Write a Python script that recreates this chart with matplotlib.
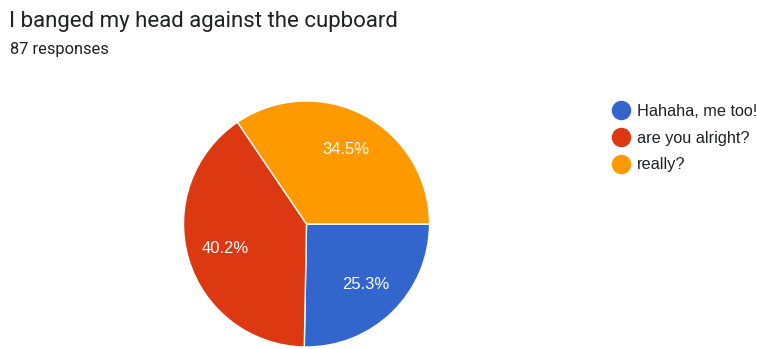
import matplotlib.pyplot as plt
from matplotlib.lines import Line2D

# Du lieu doc tu hinh
labels = ["Hahaha, me too!", "are you alright?", "really?"]
counts = [22, 35, 30]
colors = ["#3366cc", "#dc3912", "#ff9900"]
title = "I banged my head against the cupboard"
subtitle = "87 responses"

fig = plt.figure(figsize=(7.57, 3.49), dpi=100)

# Tieu de
fig.text(9 / 757, 1 - 27 / 349, title, fontsize=16, family="Roboto",
         color="#202124", va="baseline")
fig.text(10 / 757, 1 - 54 / 349, subtitle, fontsize=11.8, family="Roboto",
         color="#202124", va="baseline")

# Bieu do tron
r = 123
cx, cy = 306.5, 349 - 224
ax = fig.add_axes([(cx - r) / 757, (cy - r) / 349, 2 * r / 757, 2 * r / 349])
wedges, texts, autotexts = ax.pie(
    counts, colors=colors, startangle=0, counterclock=False,
    autopct="%.1f%%", pctdistance=0.69,
    wedgeprops=dict(edgecolor="white", linewidth=1),
    textprops=dict(color="white", fontsize=12, family="Liberation Sans"))
ax.set_xlim(-1, 1)
ax.set_ylim(-1, 1)
ax.set_aspect("equal")
ax.axis("off")

# Chu giai
handles = [Line2D([], [], marker="o", linestyle="none", markersize=13,
                  markerfacecolor=c, markeredgecolor=c) for c in colors]
fig.legend(handles, labels, loc="upper left",
           bbox_to_anchor=(613 / 757, 1 - 104 / 349), frameon=False,
           prop=dict(family="Liberation Sans", size=11.7),
           handlelength=1.0, handletextpad=0.45, labelspacing=0.72,
           borderaxespad=0, borderpad=0, labelcolor="#202124")

fig.savefig("out.png", dpi=100)
